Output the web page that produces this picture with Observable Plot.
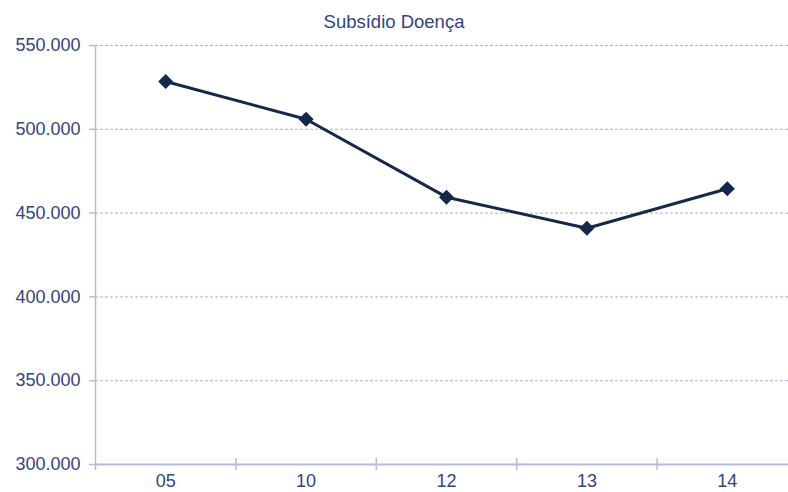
<!DOCTYPE html>
<html><head><meta charset="utf-8">
<script src="https://cdn.jsdelivr.net/npm/d3@7"></script>
<script src="https://cdn.jsdelivr.net/npm/@observablehq/plot@0.6"></script>
<style>
html,body{margin:0;padding:0;background:#fff;overflow:hidden;}
#title{width:788px;height:36px;box-sizing:border-box;padding-top:12.5px;font-family:"Liberation Sans",Arial,sans-serif;font-size:18.5px;line-height:18.5px;color:#34447c;text-align:center;white-space:nowrap;}
</style></head><body>
<div id="title">Subsídio Doença</div>
<div id="chart"></div>
<script>
const years = ["05", "10", "12", "13", "14"];
const values = [528500, 506000, 459500, 441000, 464500];
const yTicks = [300000, 350000, 400000, 450000, 500000, 550000];

const data = years.map((year, i) => ({i, year, value: values[i]}));
const boundaries = years.map((_, i) => i - 0.5);
const fmt = d3.formatLocale({decimal: ",", thousands: ".", grouping: [3], currency: ["", ""]}).format(",d");

const axisColor = "#b6bcd8";
const textColor = "#34447c";
const lineColor = "#14284b";

const chart = Plot.plot({
  width: 788,
  height: 456,
  marginLeft: 95,
  marginRight: 0,
  marginTop: 9,
  marginBottom: 28,
  x: {domain: [-0.5, 4.5], range: [95, 797], label: null},
  y: {domain: [300000, 550000], label: null},
  style: {fontFamily: "'Liberation Sans', Arial, sans-serif", fontSize: "18px", color: textColor, background: "#fff"},
  marks: [
    Plot.ruleY(yTicks.filter(v => v > 300000), {stroke: "#a9afd2", strokeDasharray: "3,2", strokeWidth: 1}),
    Plot.ruleY([300000], {stroke: axisColor, strokeWidth: 2}),
    Plot.ruleX([boundaries[0]], {stroke: axisColor, strokeWidth: 1.5, insetBottom: -6}),
    Plot.ruleX(boundaries.slice(1), {y1: 300000, y2: 300000, insetTop: -6, insetBottom: -6, stroke: axisColor, strokeWidth: 1.5}),
    Plot.axisY({ticks: yTicks, tickFormat: fmt, tickSize: 6, tickPadding: 9, stroke: axisColor, fill: textColor, strokeWidth: 1.5, fontSize: 18, label: null}),
    Plot.axisX({ticks: years.map((_, i) => i), tickFormat: i => years[i], tickSize: 0, tickPadding: 10, fill: textColor, fontSize: 18, label: null}),
    Plot.line(data, {x: "i", y: "value", stroke: lineColor, strokeWidth: 3}),
    Plot.dot(data, {x: "i", y: "value", symbol: "square", r: 6, fill: lineColor, rotate: 45})
  ]
});
document.getElementById("chart").appendChild(chart);
</script>
</body></html>
